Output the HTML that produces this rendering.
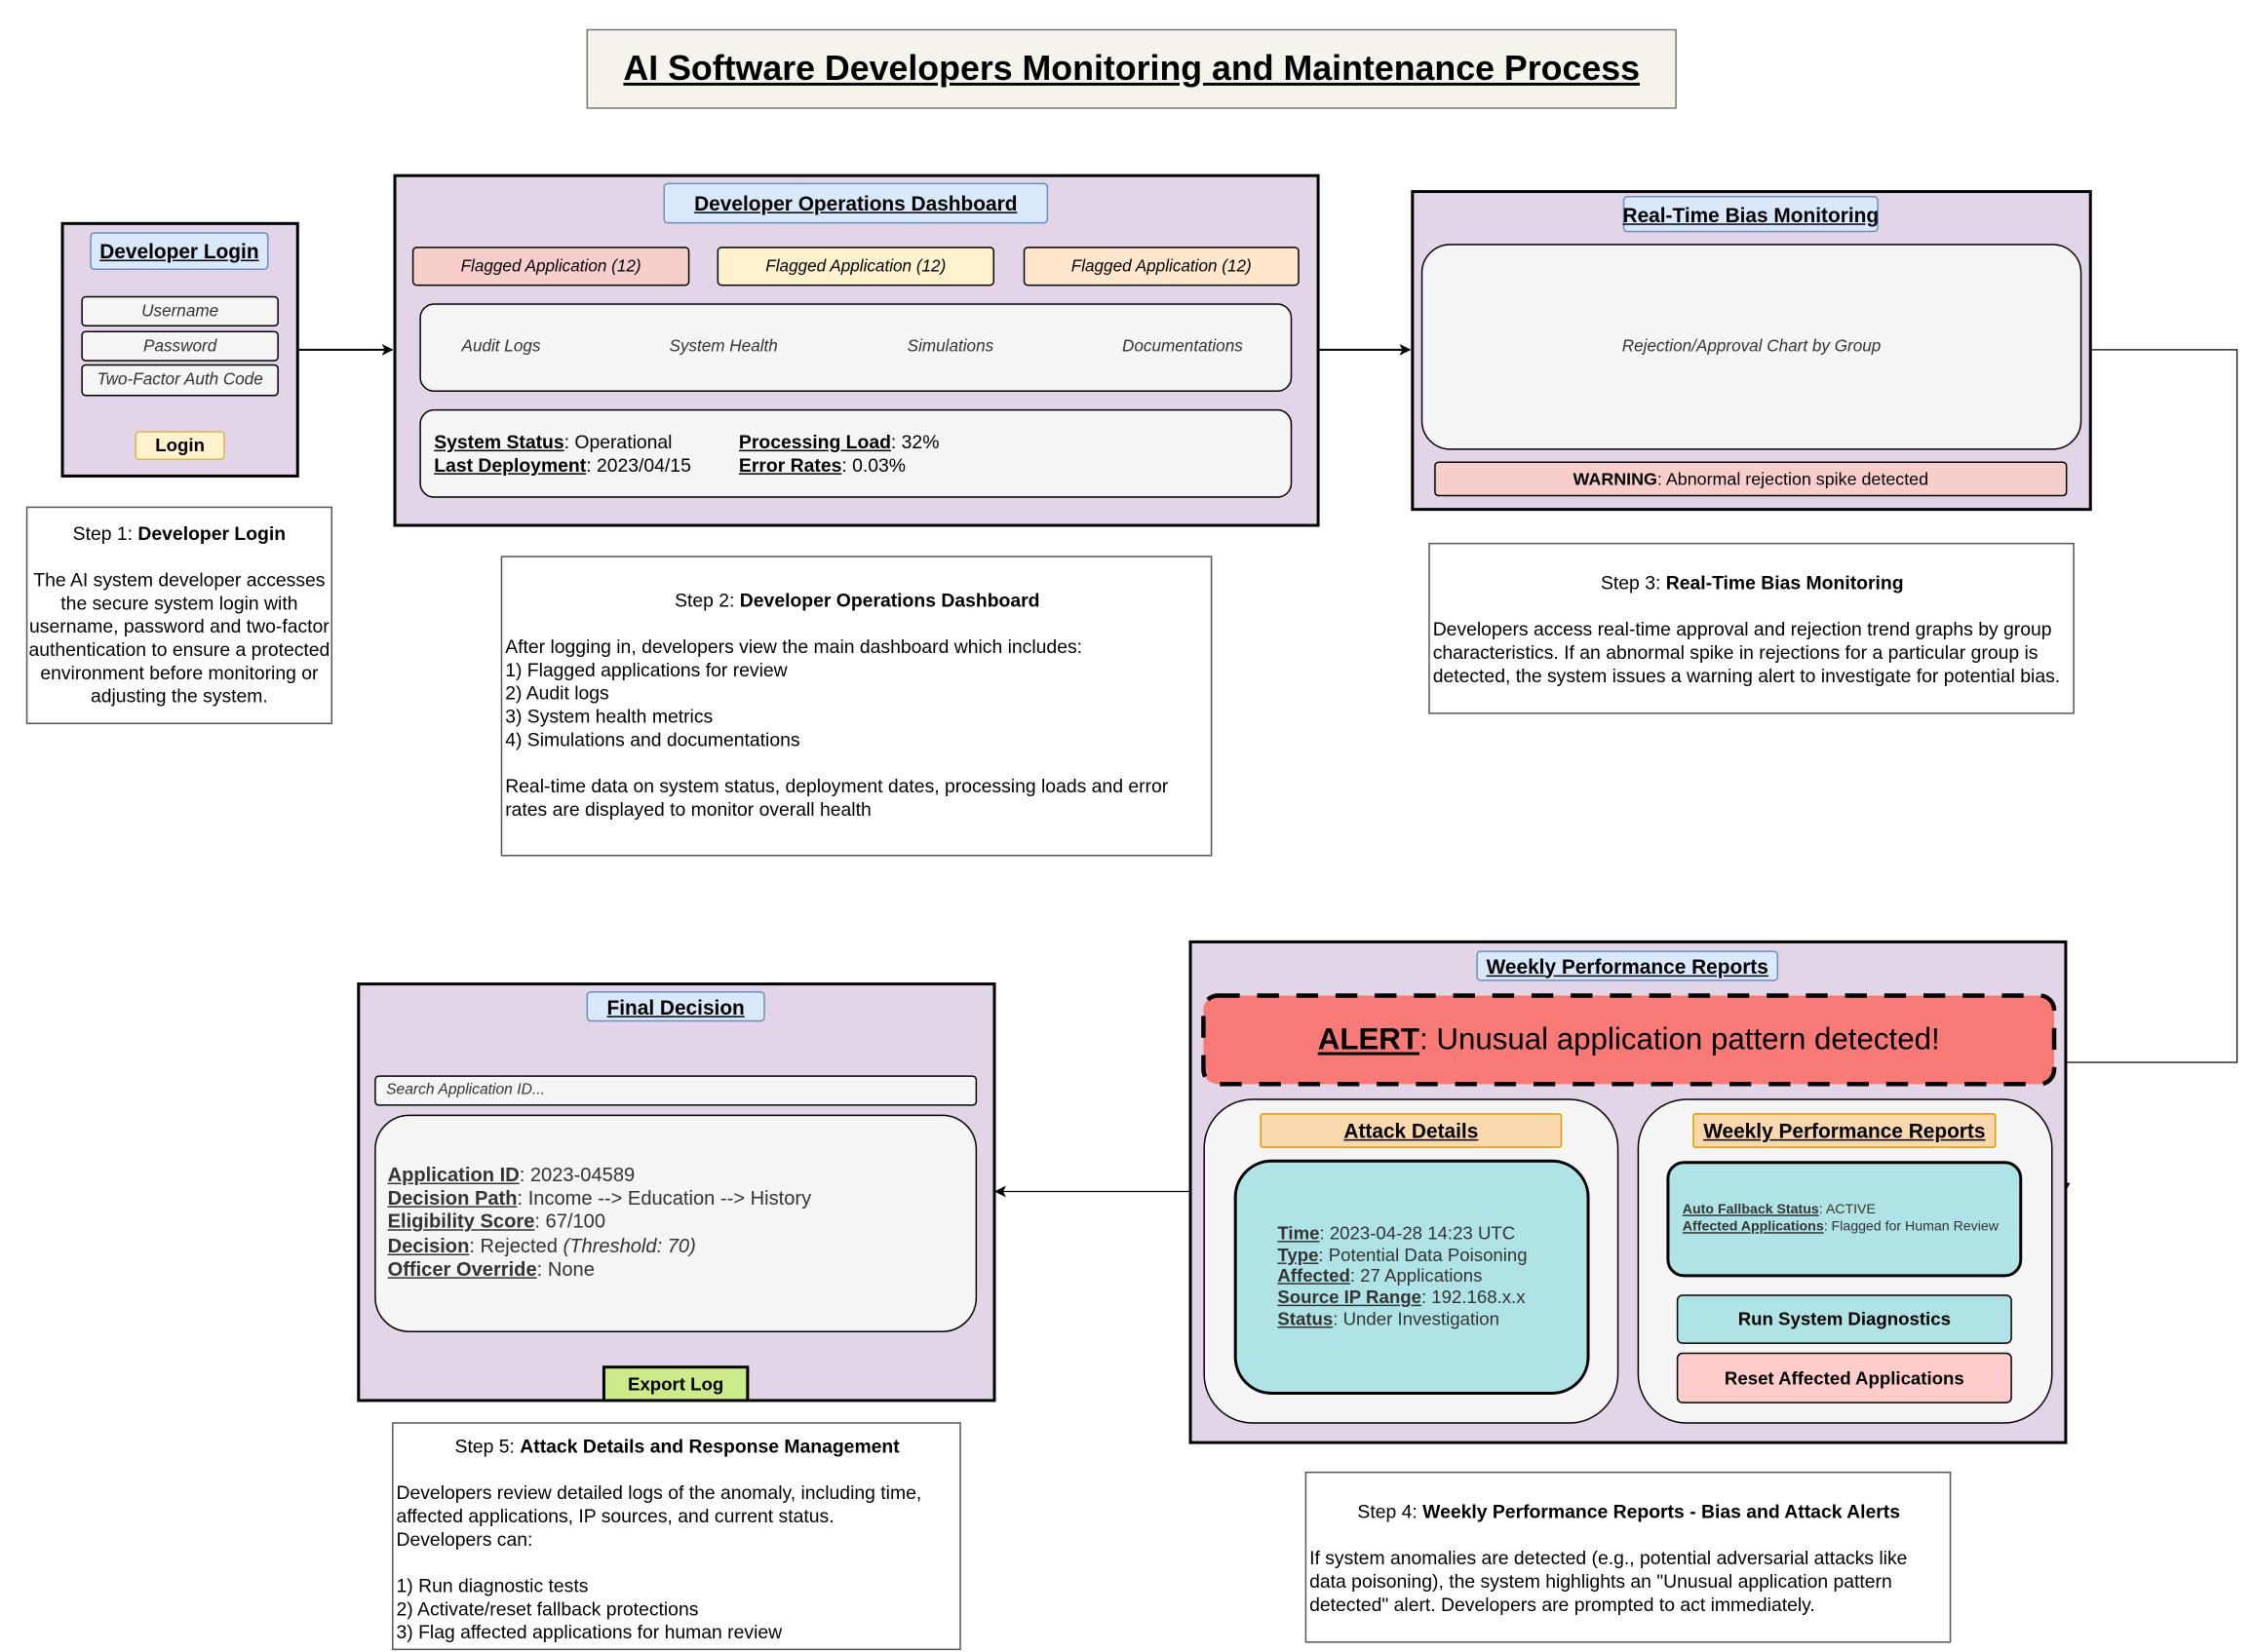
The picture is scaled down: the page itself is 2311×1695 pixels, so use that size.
<!DOCTYPE html>
<html><head><meta charset="utf-8"><style>
html,body{margin:0;padding:0;background:#fff;}
body{width:2311px;height:1694px;overflow:hidden;position:relative;}
#w{position:absolute;left:0;top:0;width:1552px;height:1138px;transform:scale(1.48905);transform-origin:0 0;font-family:"Liberation Sans",Arial,sans-serif;color:#000;}
.b{position:absolute;box-sizing:border-box;}
.c{display:flex;align-items:center;justify-content:center;text-align:center;}
.p{background:#e1d5e7;border:2px solid #000;}
.h{background:#dae8fc;border:1px solid #6c8ebf;border-radius:3px;font-weight:bold;text-decoration:underline;font-size:14px;white-space:nowrap;}
.f{background:#f5f5f5;border:1px solid #000;}
.i{font-style:italic;font-size:11.5px;color:#333;}
.s{background:#fff;border:1px solid #555;font-size:13px;line-height:16px;}
u{font-weight:bold;}
</style></head><body><div id="w">
<svg class="b" style="left:0;top:0" width="1552" height="1138">
<defs><marker id="a" markerWidth="8" markerHeight="8" refX="7" refY="4" orient="auto" markerUnits="userSpaceOnUse"><path d="M0,0 L8,4 L0,8 L2,4z" fill="#000"/></marker></defs>
<path d="M206,241 L270,241" stroke="#000" stroke-width="1.3" fill="none" marker-end="url(#a)"/>
<path d="M909,241 L971,241" stroke="#000" stroke-width="1.3" fill="none" marker-end="url(#a)"/>
<path d="M1441,241 L1541,241 L1541,732 L1423,732 L1423,820" stroke="#000" stroke-width="0.8" fill="none"/>
<path d="M1420,815 L1423,821 L1426,815z" fill="#000"/>
<path d="M819,821 L686,821" stroke="#000" stroke-width="0.8" fill="none" marker-end="url(#a)"/>
</svg>

<div class="b c" style="left:404px;top:20px;width:751px;height:55px;background:#f5f3ea;border:1px solid #777;font-size:24px;font-weight:bold;text-decoration:underline;white-space:nowrap;">AI Software Developers Monitoring and Maintenance Process</div>

<!-- Login -->
<div class="b p" style="left:42px;top:153px;width:164px;height:176px;"></div>
<div class="b c h" style="left:62px;top:160px;width:123px;height:26px;">Developer Login</div>
<div class="b c f i" style="left:56px;top:204px;width:136px;height:21px;border-radius:3px;">Username</div>
<div class="b c f i" style="left:56px;top:228px;width:136px;height:21px;border-radius:3px;">Password</div>
<div class="b c f i" style="left:56px;top:251px;width:136px;height:22px;border-radius:3px;">Two-Factor Auth Code</div>
<div class="b c" style="left:93px;top:297px;width:62px;height:20px;background:#fff2cc;border:1px solid #d6b656;border-radius:3px;font-weight:bold;font-size:12.5px;">Login</div>
<div class="b s c" style="left:18px;top:349px;width:211px;height:150px;flex-direction:column;font-size:13px;">
<div>Step 1: <b>Developer Login</b></div><div style="height:16px"></div>
<div>The AI system developer accesses the secure system login with username, password and two-factor authentication to ensure a protected environment before monitoring or adjusting the system.</div></div>

<!-- Dashboard -->
<div class="b p" style="left:271px;top:120px;width:638px;height:243px;"></div>
<div class="b c h" style="left:457px;top:126px;width:265px;height:28px;">Developer Operations Dashboard</div>
<div class="b c i" style="left:284px;top:170px;width:191px;height:27px;background:#f8cecc;border:1px solid #000;border-radius:3px;color:#000;">Flagged Application (12)</div>
<div class="b c i" style="left:494px;top:170px;width:191px;height:27px;background:#fff2cc;border:1px solid #000;border-radius:3px;color:#000;">Flagged Application (12)</div>
<div class="b c i" style="left:705px;top:170px;width:190px;height:27px;background:#ffe6cc;border:1px solid #000;border-radius:3px;color:#000;">Flagged Application (12)</div>
<div class="b f" style="left:289px;top:209px;width:601px;height:61px;border-radius:10px;"></div>
<div class="b i" style="left:318px;top:233px;">Audit Logs</div>
<div class="b i" style="left:461px;top:233px;">System Health</div>
<div class="b i" style="left:625px;top:233px;">Simulations</div>
<div class="b i" style="left:773px;top:233px;">Documentations</div>
<div class="b f" style="left:289px;top:282px;width:601px;height:61px;border-radius:10px;"></div>
<div class="b" style="left:299px;top:297px;font-size:13px;line-height:16px;"><u>System Status</u>: Operational<br><u>Last Deployment</u>: 2023/04/15</div>
<div class="b" style="left:509px;top:297px;font-size:13px;line-height:16px;"><u>Processing Load</u>: 32%<br><u>Error Rates</u>: 0.03%</div>
<div class="b s" style="left:345px;top:383px;width:490px;height:207px;padding:22px 1px 0 2px;">
<div style="text-align:center">Step 2: <b>Developer Operations Dashboard</b></div><br>
After logging in, developers view the main dashboard which includes:<br>1) Flagged applications for review<br>2) Audit logs<br>3) System health metrics<br>4) Simulations and documentations<br><br>Real-time data on system status, deployment dates, processing loads and error rates are displayed to monitor overall health</div>

<!-- Bias -->
<div class="b p" style="left:972px;top:131px;width:469px;height:221px;"></div>
<div class="b c h" style="left:1118px;top:135px;width:176px;height:25px;">Real-Time Bias Monitoring</div>
<div class="b c f i" style="left:979px;top:168px;width:455px;height:142px;border-radius:20px;border-width:1.5px;">Rejection/Approval Chart by Group</div>
<div class="b c" style="left:988px;top:318px;width:436px;height:24px;background:#f8cecc;border:1px solid #000;border-radius:3px;font-size:12px;"><b>WARNING</b>: Abnormal rejection spike detected</div>
<div class="b s" style="left:984px;top:374px;width:445px;height:118px;padding:19px 1px 0 2px;">
<div style="text-align:center">Step 3: <b>Real-Time Bias Monitoring</b></div><br>
Developers access real-time approval and rejection trend graphs by group characteristics. If an abnormal spike in rejections for a particular group is detected, the system issues a warning alert to investigate for potential bias.</div>

<!-- Weekly -->
<div class="b p" style="left:819px;top:648px;width:605px;height:347px;"></div>
<div class="b c h" style="left:1017px;top:655px;width:208px;height:21px;">Weekly Performance Reports</div>
<svg class="b" style="left:827px;top:684px;" width="590" height="65"><rect x="2" y="2" width="586" height="61" rx="10" fill="#f77a76" stroke="#000" stroke-width="3" stroke-dasharray="15 12"/></svg>
<div class="b c" style="left:829px;top:686px;width:586px;height:61px;font-size:21px;white-space:nowrap;"><span><u style="text-decoration:underline">ALERT</u>: Unusual application pattern detected!</span></div>
<div class="b f" style="left:829px;top:757px;width:286px;height:224px;border-radius:34px;"></div>
<div class="b c" style="left:868px;top:767px;width:208px;height:24px;background:#fad7ac;border:1px solid #d79b00;border-radius:2px;font-size:14px;font-weight:bold;text-decoration:underline;">Attack Details</div>
<div class="b" style="left:850px;top:799px;width:245px;height:162px;background:#b0e3e6;border:2px solid #000;border-radius:26px;"></div>
<div class="b" style="left:880px;top:843px;font-size:12.5px;line-height:14.7px;color:#333;"><u>Time</u>: 2023-04-28 14:23 UTC<br><u>Type</u>: Potential Data Poisoning<br><u>Affected</u>: 27 Applications<br><u>Source IP Range</u>: 192.168.x.x<br><u>Status</u>: Under Investigation</div>
<div class="b f" style="left:1128px;top:757px;width:286px;height:224px;border-radius:34px;"></div>
<div class="b c" style="left:1166px;top:767px;width:209px;height:24px;background:#fad7ac;border:1px solid #d79b00;border-radius:2px;font-size:14px;font-weight:bold;text-decoration:underline;white-space:nowrap;">Weekly Performance Reports</div>
<div class="b" style="left:1148px;top:800px;width:245px;height:80px;background:#b0e3e6;border:2px solid #000;border-radius:12px;"></div>
<div class="b" style="left:1159px;top:828px;font-size:9.5px;line-height:11.5px;color:#333;white-space:nowrap;"><u>Auto Fallback Status</u>: ACTIVE<br><u>Affected Applications</u>: Flagged for Human Review</div>
<div class="b c" style="left:1155px;top:892px;width:231px;height:34px;background:#b0e3e6;border:1.5px solid #000;border-radius:4px;font-weight:bold;font-size:12.5px;">Run System Diagnostics</div>
<div class="b c" style="left:1155px;top:932px;width:231px;height:35px;background:#ffcccc;border:1.5px solid #000;border-radius:4px;font-weight:bold;font-size:12.5px;">Reset Affected Applications</div>
<div class="b s" style="left:899px;top:1014px;width:445px;height:118px;padding:19px 1px 0 2px;">
<div style="text-align:center">Step 4: <b>Weekly Performance Reports - Bias and Attack Alerts</b></div><br>
If system anomalies are detected (e.g., potential adversarial attacks like data poisoning), the system highlights an "Unusual application pattern detected" alert. Developers are prompted to act immediately.</div>

<!-- Final -->
<div class="b p" style="left:246px;top:677px;width:440px;height:289px;"></div>
<div class="b c h" style="left:404px;top:683px;width:123px;height:21px;">Final Decision</div>
<div class="b f i" style="left:258px;top:741px;width:415px;height:21px;border-radius:3px;padding:3px 0 0 7px;font-size:10.5px;">Search Application ID...</div>
<div class="b f" style="left:258px;top:768px;width:415px;height:150px;border-radius:24px;"></div>
<div class="b" style="left:267px;top:802px;font-size:13.5px;line-height:16.2px;color:#333;"><u>Application ID</u>: 2023-04589<br><u>Decision Path</u>: Income --&gt; Education --&gt; History<br><u>Eligibility Score</u>: 67/100<br><u>Decision</u>: Rejected <i>(Threshold: 70)</i><br><u>Officer Override</u>: None</div>
<div class="b c" style="left:415px;top:941px;width:101px;height:25px;background:#cdeb8b;border:2px solid #000;font-weight:bold;font-size:12.5px;">Export Log</div>
<div class="b s" style="left:270px;top:980px;width:392px;height:157px;padding:8px 1px 0 2px;">
<div style="text-align:center">Step 5: <b>Attack Details and Response Management</b></div><br>
Developers review detailed logs of the anomaly, including time, affected applications, IP sources, and current status.<br>Developers can:<br><br>1) Run diagnostic tests<br>2) Activate/reset fallback protections<br>3) Flag affected applications for human review</div>
</div></body></html>
